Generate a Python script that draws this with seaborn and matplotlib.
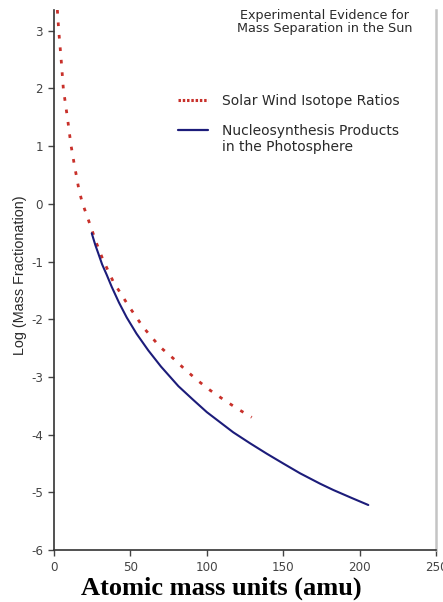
import matplotlib
matplotlib.use("Agg")
import matplotlib.pyplot as plt
from matplotlib.lines import Line2D
import seaborn as sns
import pandas as pd

# Data
solar_wind_amu = [2.2, 3.1, 4.6, 6.1, 9.0, 11.1, 13.1, 16.2, 18.5, 23.6, 27.5, 31.9,
                  38.8, 48.6, 58.4, 69.4, 78.1, 85.7, 94.4, 102.1, 111.9, 120.6, 129.4]
solar_wind_log = [3.36, 3.00, 2.53, 2.00, 1.45, 1.02, 0.71, 0.26, 0.02, -0.36, -0.66, -0.96,
                  -1.35, -1.76, -2.14, -2.48, -2.68, -2.87, -3.07, -3.23, -3.41, -3.56, -3.70]

nucleo_amu = [24.7, 27.0, 29.0, 31.5, 34.5, 37.8, 42.5, 47.6, 54.0, 61.7, 70.0,
              81.4, 91.2, 100.0, 117.3, 128.3, 139.2, 150.0, 161.0, 174.1,
              182.8, 195.0, 205.7]
nucleo_log = [-0.51, -0.71, -0.86, -1.05, -1.23, -1.44, -1.71, -1.97, -2.25, -2.54, -2.82,
              -3.16, -3.40, -3.61, -3.96, -4.15, -4.33, -4.50, -4.67, -4.85,
              -4.96, -5.10, -5.22]

x_ticks = [0, 50, 100, 150, 200, 250]
y_ticks = [-6, -5, -4, -3, -2, -1, 0, 1, 2, 3]

title_text = "Experimental Evidence for\nMass Separation in the Sun"
label_solar = "Solar Wind Isotope Ratios"
label_nucleo_1 = "Nucleosynthesis Products"
label_nucleo_2 = "in the Photosphere"
x_label = "Atomic mass units (amu)"
y_label = "Log (Mass Fractionation)"

red = "#c8302a"
navy = "#1c1c7a"
text_col = "#2a2a2a"

sns.set_style("ticks")
plt.rcParams["font.family"] = ["DejaVu Sans"]
plt.rcParams["axes.unicode_minus"] = False

df_sw = pd.DataFrame({"amu": solar_wind_amu, "log": solar_wind_log})
df_nu = pd.DataFrame({"amu": nucleo_amu, "log": nucleo_log})

fig = plt.figure(figsize=(4.43, 6.02), dpi=100)
ax = fig.add_axes([54 / 443, 1 - 550 / 602, (436 - 54) / 443, (550 - 10) / 602])

sns.lineplot(data=df_sw, x="amu", y="log", ax=ax, color=red, linewidth=2.0,
             sort=False, estimator=None)
ax.lines[-1].set_linestyle((0, (1.3, 3.2)))
sns.lineplot(data=df_nu, x="amu", y="log", ax=ax, color=navy, linewidth=1.5,
             sort=False, estimator=None)

ax.set_xlim(0, 250)
ax.set_ylim(-6, 3.36)
ax.set_xticks(x_ticks)
ax.set_yticks(y_ticks)
ax.set_xlabel("")
ax.set_ylabel(y_label, fontsize=10.4, color=text_col, family="Liberation Sans")
ax.yaxis.set_label_coords(-0.071, 0.509)
ax.tick_params(axis="both", labelsize=8.6, colors="#444444", length=4, width=1, pad=4)

for s in ["left", "bottom"]:
    ax.spines[s].set_color("#333333")
    ax.spines[s].set_linewidth(1.2)
ax.spines["top"].set_visible(False)
ax.spines["right"].set_visible(True)
ax.spines["right"].set_color("#c4c4c4")
ax.spines["right"].set_linewidth(1.8)

# title block
fig.text(325 / 443, 1 - 22 / 602, title_text, ha="center", va="center",
         fontsize=9.2, color=text_col, linespacing=0.95)

# legend
handles = [Line2D([], [], color=red, linewidth=2.2, linestyle=(0, (0.8, 0.6))),
           Line2D([], [], color=navy, linewidth=1.6)]
labels = [label_solar, label_nucleo_1]
leg = ax.legend(handles, labels, loc="upper left",
                bbox_to_anchor=(178 / 443, 1 - 94 / 602), bbox_transform=fig.transFigure,
                frameon=False, fontsize=10, handlelength=2.15, handletextpad=1.0,
                labelspacing=1.12, borderpad=0, borderaxespad=0)
for t in leg.get_texts():
    t.set_color(text_col)
fig.text(222 / 443, 1 - 146.5 / 602, label_nucleo_2, ha="left", va="center",
         fontsize=10, color=text_col)

fig.text(0.5, 1 - 588 / 602, x_label, ha="center", va="center",
         fontsize=19, fontweight="bold", family="Liberation Serif", color="black")

fig.savefig("out.png", dpi=100)
